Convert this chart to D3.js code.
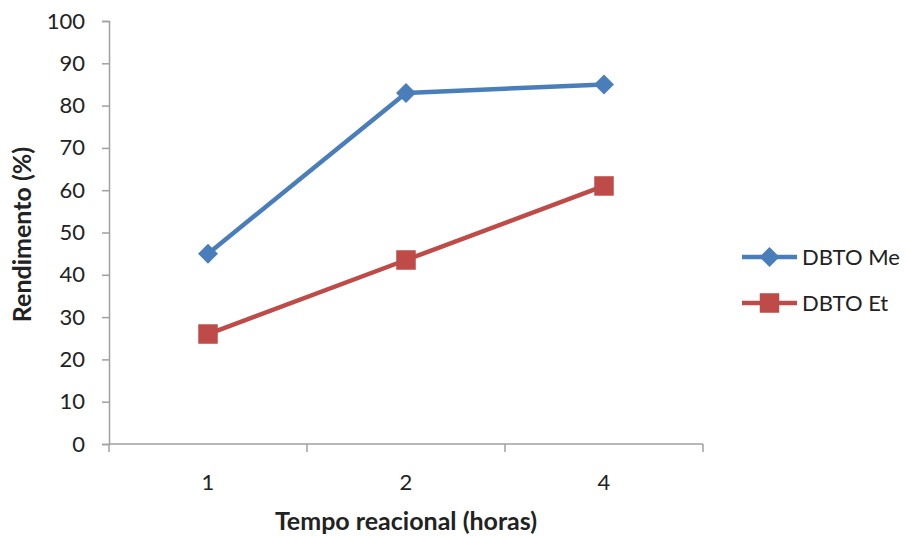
<!DOCTYPE html>
<html>
<head>
<meta charset="utf-8">
<script src="https://cdn.jsdelivr.net/npm/d3@7"></script>
<style>
  body { margin: 0; background: #fff; }
  text { font-family: Lato, "Liberation Sans", sans-serif; fill: #222; }
</style>
</head>
<body>
<script>

// Data.
var categories = ['1', '2', '4'];
var seriesNames = ['DBTO Me', 'DBTO Et'];
var dbtoMe = [45, 83, 85];
var dbtoEt = [26, 43.5, 61];
var yTicks = [0, 10, 20, 30, 40, 50, 60, 70, 80, 90, 100];

(function() {

  var W = 907, H = 536;
  var plotL = 109, plotR = 703, plotT = 21, plotB = 444;
  var colors = ['#4a7ebb', '#be4b48'];

  var svg = d3.select('body').append('svg')
    .attr('width', W).attr('height', H);

  var x = d3.scaleBand().domain(categories).range([plotL, plotR]);
  var y = d3.scaleLinear().domain([0, 100]).range([plotB, plotT]);

  // Y axis.
  var yAxis = svg.append('g')
    .attr('transform', 'translate(' + plotL + ',0)')
    .call(d3.axisLeft(y).tickValues(yTicks).tickSize(7).tickPadding(17));
  yAxis.selectAll('text').style('font-size', '22px');

  // X axis, ticks at category boundaries.
  var xAxis = svg.append('g')
    .attr('transform', 'translate(0,' + plotB + ')');
  xAxis.append('line')
    .attr('x1', plotL).attr('x2', plotR);
  xAxis.selectAll('line.tk')
    .data(categories.map(function(c) { return x(c); }).concat([plotR]))
    .enter().append('line')
    .attr('class', 'tk')
    .attr('x1', function(d) { return d; })
    .attr('x2', function(d) { return d; })
    .attr('y1', 0).attr('y2', 8);
  xAxis.selectAll('text')
    .data(categories).enter().append('text')
    .attr('x', function(d) { return x(d) + x.bandwidth() / 2; })
    .attr('y', 38).attr('dy', '0.35em')
    .attr('text-anchor', 'middle')
    .style('font-size', '22px')
    .text(function(d) { return d; });

  svg.selectAll('.domain, .tick line, g line')
    .attr('stroke', '#a0a0a0').attr('stroke-width', 1.5);

  // Axis titles.
  svg.append('text')
    .attr('transform',
      'translate(22,' + ((plotT + plotB) / 2 + 2) + ') rotate(-90)')
    .attr('text-anchor', 'middle').attr('dy', '0.35em')
    .style('font-size', '25px').style('font-weight', 'bold')
    .text('Rendimento (%)');
  svg.append('text')
    .attr('x', 406).attr('y', 530)
    .attr('text-anchor', 'middle')
    .style('font-size', '25px').style('font-weight', 'bold')
    .text('Tempo reacional (horas)');

  // Series.
  var series = [dbtoMe, dbtoEt];
  var cx = function(d, i) { return x(categories[i]) + x.bandwidth() / 2; };
  var line = d3.line()
    .x(cx)
    .y(function(d) { return y(d); });

  var diamond = d3.symbol().type(d3.symbolSquare).size(200);
  var square = d3.symbol().type(d3.symbolSquare).size(380);

  series.forEach(function(vals, k) {
    svg.append('path')
      .datum(vals)
      .attr('d', line)
      .attr('fill', 'none')
      .attr('stroke', colors[k])
      .attr('stroke-width', 4.5)
      .attr('stroke-linejoin', 'round');

    svg.selectAll('.m' + k)
      .data(vals).enter().append('path')
      .attr('class', 'm' + k)
      .attr('d', k === 0 ? diamond() : square())
      .attr('fill', colors[k])
      .attr('transform', function(d, i) {
        return 'translate(' + cx(d, i) + ',' + y(d) + ')' +
          (k === 0 ? ' rotate(45)' : '');
      });
  });

  // Legend.
  var legY = [257, 303];
  seriesNames.forEach(function(name, k) {
    var g = svg.append('g').attr('transform', 'translate(0,' + legY[k] + ')');
    g.append('line')
      .attr('x1', 742).attr('x2', 797)
      .attr('stroke', colors[k]).attr('stroke-width', 4.5);
    g.append('path')
      .attr('d', k === 0 ? diamond() : square())
      .attr('fill', colors[k])
      .attr('transform',
        'translate(769.5,0)' + (k === 0 ? ' rotate(45)' : ''));
    g.append('text')
      .attr('x', 802).attr('dy', '0.35em')
      .style('font-size', '22px')
      .text(name);
  });

})();

</script>
</body>
</html>
